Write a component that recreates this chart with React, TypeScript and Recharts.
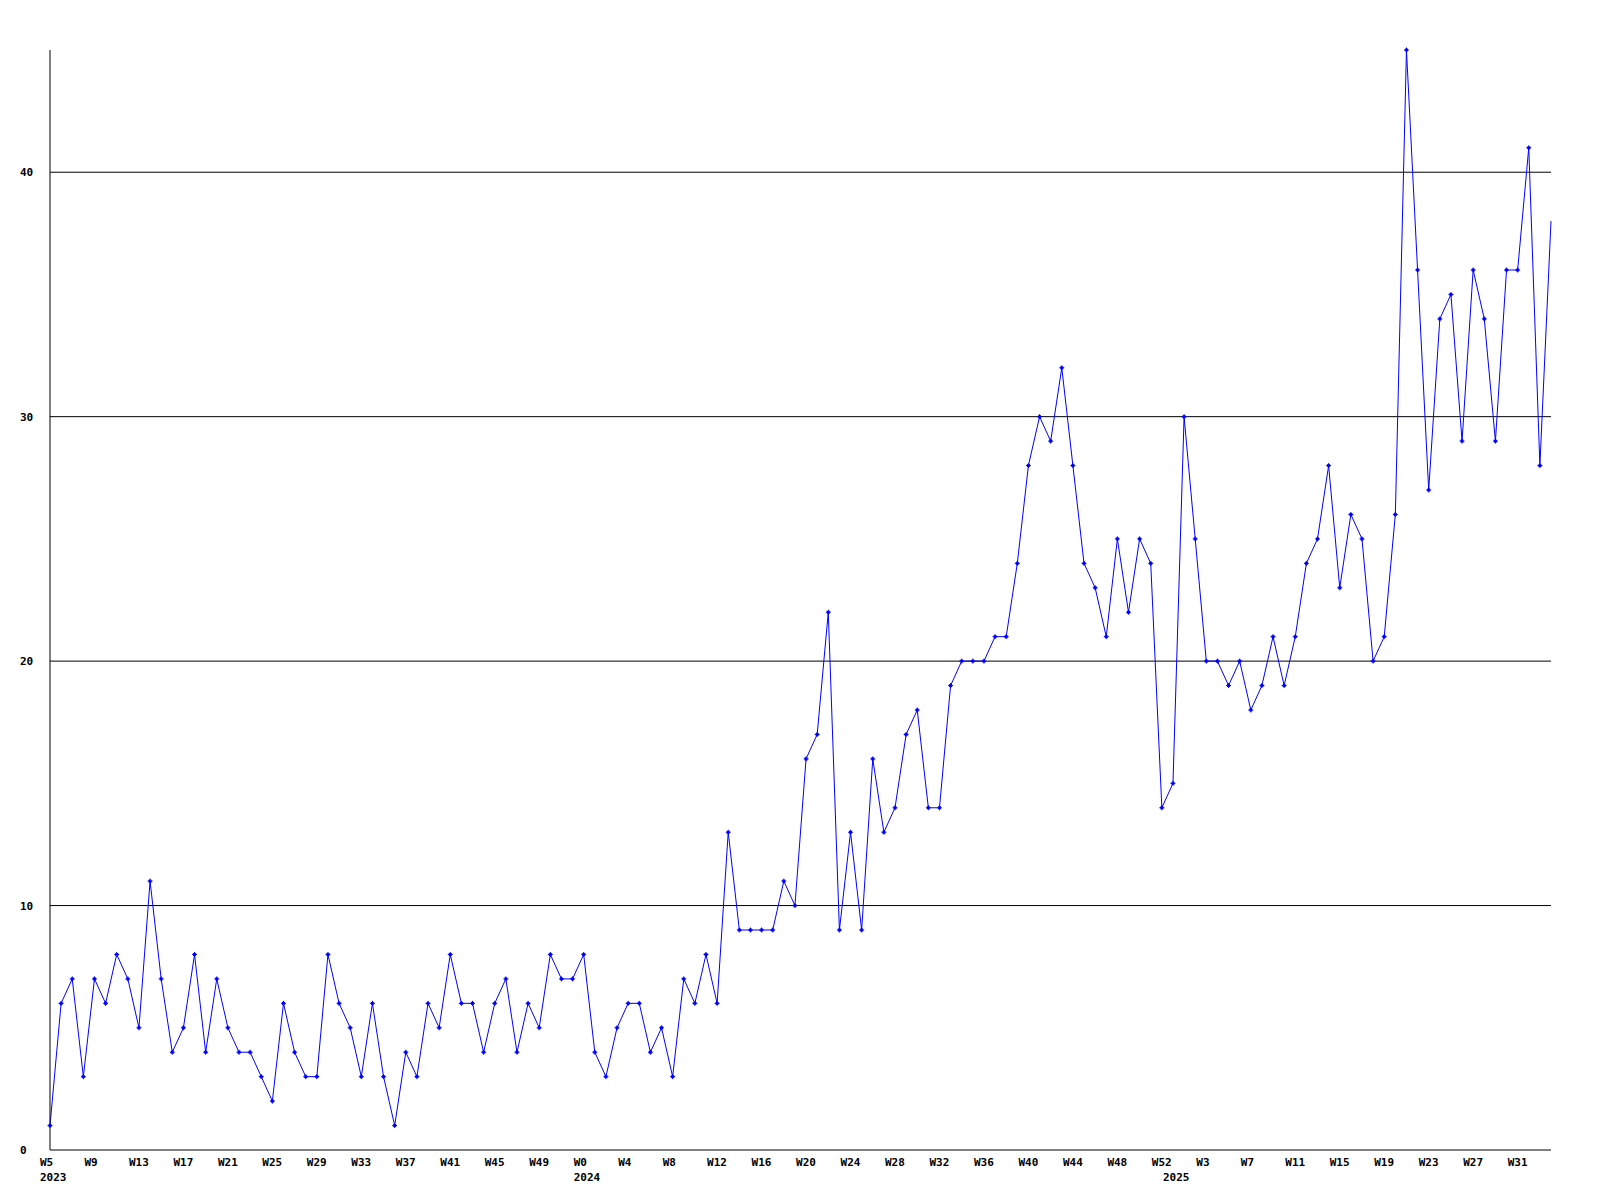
import { LineChart, Line, XAxis, YAxis, CartesianGrid } from "recharts";

// weekly counts, W5 2023 .. W34 2025 (one value per week)
const counts = [
  1, 6, 7, 3, 7, 6, 8, 7, 5, 11, 7, 4, 5, 8, 4, 7, 5, 4, 4, 3,
  2, 6, 4, 3, 3, 8, 6, 5, 3, 6, 3, 1, 4, 3, 6, 5, 8, 6, 6, 4,
  6, 7, 4, 6, 5, 8, 7, 7, 8, 4, 3, 5, 6, 6, 4, 5, 3, 7, 6, 8,
  6, 13, 9, 9, 9, 9, 11, 10, 16, 17, 22, 9, 13, 9, 16, 13, 14, 17, 18, 14,
  14, 19, 20, 20, 20, 21, 21, 24, 28, 30, 29, 32, 28, 24, 23, 21, 25, 22, 25, 24,
  14, 15, 30, 25, 20, 20, 19, 20, 18, 19, 21, 19, 21, 24, 25, 28, 23, 26, 25, 20,
  21, 26, 45, 36, 27, 34, 35, 29, 36, 34, 29, 36, 36, 41, 28, 38,
];

// a label every 4th week
const weekLabels = [
  "W5", "W9", "W13", "W17", "W21", "W25", "W29", "W33", "W37", "W41", "W45", "W49",
  "W0", "W4", "W8", "W12", "W16", "W20", "W24", "W28", "W32", "W36", "W40", "W44", "W48", "W52",
  "W3", "W7", "W11", "W15", "W19", "W23", "W27", "W31",
];

// first week of each year (index into counts)
const yearStarts = [0, 48, 101];
const yearLabels = ["2023", "2024", "2025"];

const yTicks = [0, 10, 20, 30, 40];
const gridValues = [10, 20, 30, 40];

const data = counts.map((v, i) => ({ i, v }));
const weekTickIdx = weekLabels.map((_, k) => k * 4);
const allTicks = Array.from(new Set([...weekTickIdx, ...yearStarts])).sort((a, b) => a - b);

const labelFont = {
  fontFamily: "'DejaVu Sans Mono', monospace",
  fontWeight: 700,
  fontSize: 11,
  fill: "#000",
};

function WeekTick(props: any) {
  const { x, y, payload } = props;
  const idx = payload.value;
  const w = weekTickIdx.indexOf(idx);
  const yr = yearStarts.indexOf(idx);
  return (
    <g>
      {w >= 0 && (
        <text x={x - 10} y={y + 16} textAnchor="start" style={labelFont}>
          {weekLabels[w]}
        </text>
      )}
      {yr >= 0 && (
        <text x={x - 10} y={y + 31} textAnchor="start" style={labelFont}>
          {yearLabels[yr]}
        </text>
      )}
    </g>
  );
}

function CountTick(props: any) {
  const { y, payload } = props;
  return (
    <text x={20} y={y + 4} textAnchor="start" style={labelFont}>
      {payload.value}
    </text>
  );
}

function PlusDot(props: any) {
  const { cx, cy, index } = props;
  if (index === counts.length - 1 || cx == null) return <g key={index} />;
  return (
    <g key={index} fill="#0000ff">
      <rect x={cx - 1.5} y={cy - 1.5} width={3} height={3} />
      <rect x={cx - 2.5} y={cy - 0.5} width={5} height={1} />
      <rect x={cx - 0.5} y={cy - 2.5} width={1} height={5} />
    </g>
  );
}

export default function App() {
  return (
    <div style={{ position: "absolute", left: 0, top: 0, background: "#fff" }}>
      <LineChart
        width={1600}
        height={1200}
        data={data}
        margin={{ top: 50, right: 49, bottom: 0, left: 0 }}
      >
        <CartesianGrid
          horizontal
          vertical={false}
          horizontalValues={gridValues}
          stroke="#000"
          strokeWidth={1}
        />
        <XAxis
          dataKey="i"
          type="number"
          domain={[0, counts.length - 1]}
          ticks={allTicks}
          interval={0}
          height={50}
          tickLine={false}
          tickSize={0}
          tickMargin={0}
          axisLine={{ stroke: "#000" }}
          tick={<WeekTick />}
        />
        <YAxis
          type="number"
          domain={[0, 45]}
          ticks={yTicks}
          width={50}
          tickLine={false}
          tickSize={0}
          tickMargin={0}
          axisLine={{ stroke: "#000" }}
          tick={<CountTick />}
        />
        <Line
          type="linear"
          dataKey="v"
          stroke="#0000ff"
          strokeWidth={1}
          dot={<PlusDot />}
          activeDot={false}
          isAnimationActive={false}
        />
      </LineChart>
    </div>
  );
}
